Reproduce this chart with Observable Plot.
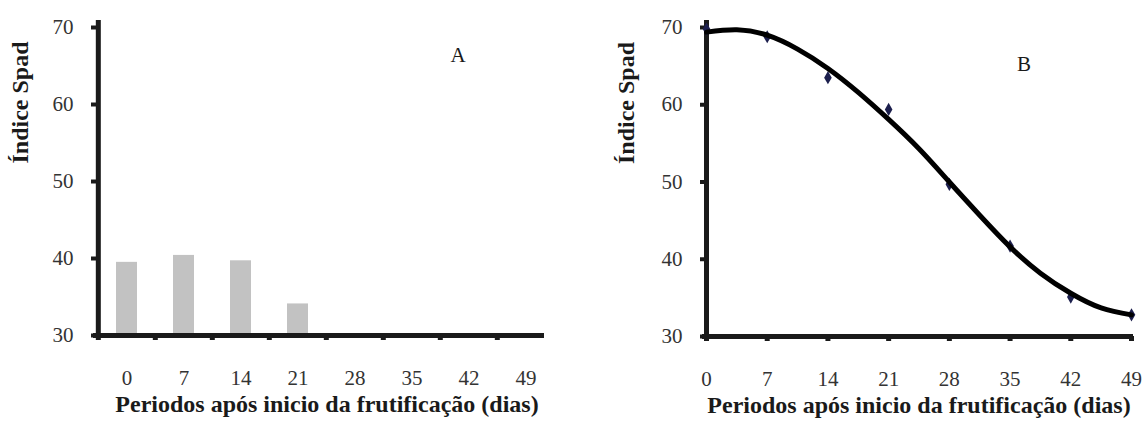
<!DOCTYPE html>
<html>
<head>
<meta charset="utf-8">
<script src="https://cdn.jsdelivr.net/npm/d3@7"></script>
<script src="https://cdn.jsdelivr.net/npm/@observablehq/plot@0.6"></script>
<style>
  html, body { margin: 0; padding: 0; background: #fff; }
  #wrap { display: flex; width: 1142px; height: 437px; overflow: hidden; }
  #wrap svg { flex: none; }
</style>
</head>
<body>
<div id="wrap"></div>
<script>
// ---- data ----
const dayLabels = ["0", "7", "14", "21", "28", "35", "42", "49"];
const barDays = ["0", "7", "14", "21"];
const barSpad = [39.5, 40.4, 39.7, 34.1];

const pointDays = [0, 7, 14, 21, 28, 35, 42, 49];
const pointSpad = [69.8, 68.8, 63.5, 59.4, 49.7, 41.7, 35.1, 32.8];

const curveDays = [0, 3.5, 7, 10.5, 14, 17.5, 21, 24.5, 28, 31.5, 35, 38.5, 42, 45.5, 49];
const curveSpad = [69.4, 69.7, 69.0, 67.2, 64.7, 61.6, 58.1, 54.3, 50.0, 45.7, 41.6, 38.2, 35.6, 33.7, 32.8];

const yTicks = [30, 40, 50, 60, 70];
const yTitle = "Índice Spad";
const xTitle = "Periodos após inicio da frutificação (dias)";
const panelA = [{label: "A", day: "42", spad: 66.4}];
const panelB = [{label: "B", day: 36.6, spad: 65.3}];

// ---- layout ----
const W = 571, H = 437;
const FONT = "Liberation Serif";
const INK = "#1a1a1a";

const barData = barDays.map((d, i) => ({day: d, spad: barSpad[i]}));
const pointData = pointDays.map((d, i) => ({day: d, spad: pointSpad[i]}));
const curveData = curveDays.map((d, i) => ({day: d, spad: curveSpad[i]}));

// Panel A
const mA = {left: 97, right: 15, top: 27, bottom: 102};
const stepA = (W - mA.left - mA.right) / dayLabels.length;
const chartA = Plot.plot({
  width: W, height: H,
  marginLeft: mA.left, marginRight: mA.right, marginTop: mA.top, marginBottom: mA.bottom,
  style: {fontFamily: FONT, background: "white", color: INK, overflow: "visible"},
  x: {type: "band", domain: dayLabels, paddingInner: 0.63, paddingOuter: 0.315, axis: null},
  y: {domain: [30, 70], axis: null},
  marks: [
    Plot.barY(barData, {x: "day", y1: 30, y2: "spad", fill: "#c2c2c2"}),
    Plot.axisY({ticks: yTicks, tickSize: 6, tickPadding: 18, strokeWidth: 4, fontSize: 21, fontFamily: FONT, fill: "#333", label: null, tickFormat: d => String(d)}),
    Plot.axisX({tickSize: 5, strokeWidth: 5, tickFormat: () => "", dx: -stepA / 2, label: null}),
    Plot.axisX({tickSize: 0, tickPadding: 35, fontSize: 21, fontFamily: FONT, fill: "#333", label: null}),
    Plot.ruleY([30], {strokeWidth: 5, insetLeft: -4, insetRight: 12}),
    Plot.ruleX([dayLabels[0]], {dx: -stepA / 2, strokeWidth: 5, insetTop: -7, insetBottom: -2}),
    Plot.text(panelA, {x: "day", y: "spad", text: "label", fontSize: 21, fontFamily: FONT, dx: -11}),
    Plot.text([yTitle], {frameAnchor: "left", dx: -77, dy: -18, rotate: -90, fontSize: 24, fontFamily: FONT, fontWeight: "bold"}),
    Plot.text([xTitle], {frameAnchor: "bottom", dy: 76, fontSize: 24, fontFamily: FONT, fontWeight: "bold"})
  ]
});

// Panel B
const mB = {left: 135, right: 11, top: 27, bottom: 101};
const chartB = Plot.plot({
  width: W, height: H,
  marginLeft: mB.left, marginRight: mB.right, marginTop: mB.top, marginBottom: mB.bottom,
  style: {fontFamily: FONT, background: "white", color: INK, overflow: "visible"},
  x: {domain: [0, 49], axis: null},
  y: {domain: [30, 70], axis: null},
  marks: [
    Plot.axisY({ticks: yTicks, tickSize: 6, tickPadding: 18, strokeWidth: 4, fontSize: 21, fontFamily: FONT, fill: "#333", label: null, tickFormat: d => String(d)}),
    Plot.axisX({ticks: pointDays, tickSize: 5, strokeWidth: 5, tickPadding: 30, fontSize: 21, fontFamily: FONT, fill: "#333", label: null, tickFormat: d => String(d)}),
    Plot.ruleY([30], {strokeWidth: 5, insetLeft: -4, insetRight: -2}),
    Plot.ruleX([0], {strokeWidth: 5, insetTop: -7, insetBottom: -2}),
    Plot.dot(pointData, {x: "day", y: "spad", symbol: "diamond", r: 4, fill: "#1c1f4d"}),
    Plot.line(curveData, {x: "day", y: "spad", curve: "natural", stroke: "#000", strokeWidth: 5}),
    Plot.text(panelB, {x: "day", y: "spad", text: "label", fontSize: 21, fontFamily: FONT}),
    Plot.text([yTitle], {frameAnchor: "left", dx: -80, dy: -18, rotate: -90, fontSize: 24, fontFamily: FONT, fontWeight: "bold"}),
    Plot.text([xTitle], {frameAnchor: "bottom", dy: 76, fontSize: 24, fontFamily: FONT, fontWeight: "bold"})
  ]
});

document.getElementById("wrap").append(chartA, chartB);
d3.selectAll("#wrap text").style("font-family", "'Liberation Serif', serif");
</script>
</body>
</html>
